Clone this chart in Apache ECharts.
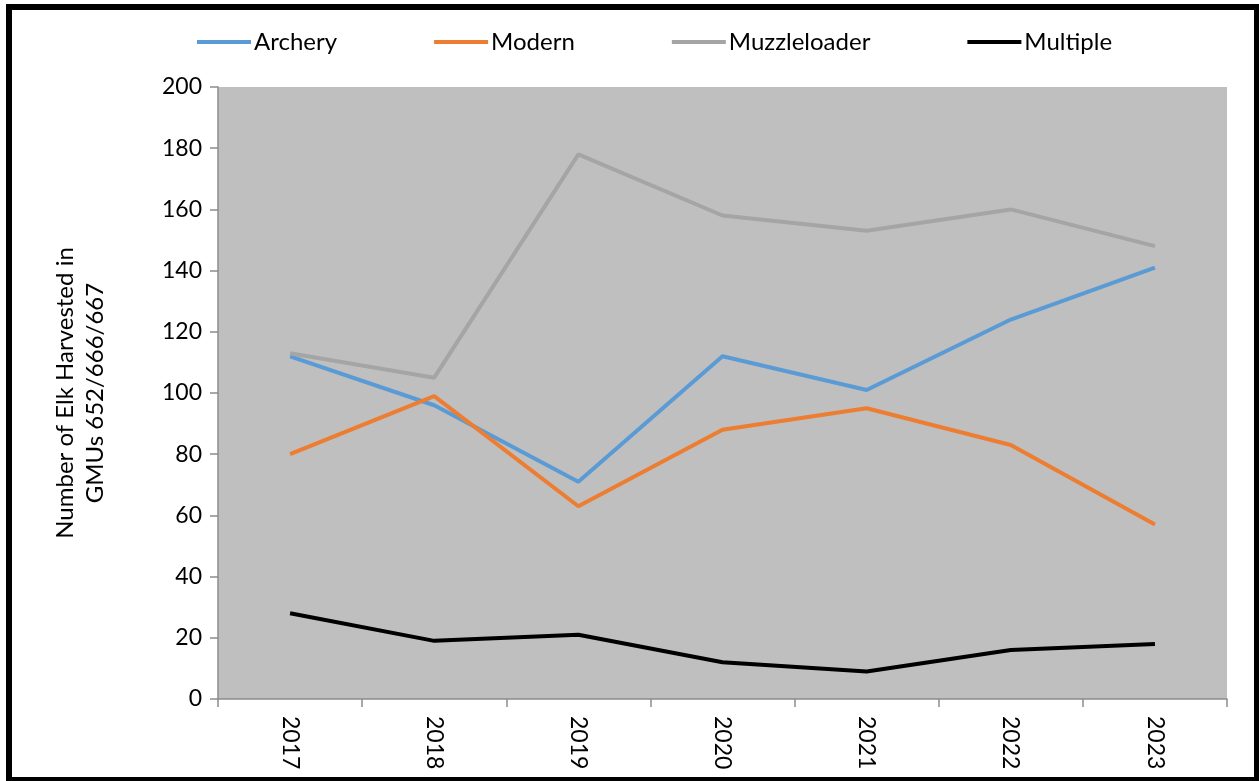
<!DOCTYPE html>
<html>
<head>
<meta charset="utf-8">
<script src="https://cdn.jsdelivr.net/npm/echarts@6/dist/echarts.min.js"></script>
<style>
  html, body { margin: 0; padding: 0; background: #fff; }
  #chart { position: absolute; left: 0; top: 0; width: 1259px; height: 781px; }
  #frame { position: absolute; left: 6px; top: 4px; width: 1254px; height: 779px;
    box-sizing: border-box; border: 6px solid #000; pointer-events: none; }
</style>
</head>
<body>
<div id="chart"></div>
<div id="frame"></div>
<script>
const years = ["2017", "2018", "2019", "2020", "2021", "2022", "2023"];
const archery = [112, 96, 71, 112, 101, 124, 141];
const modern = [80, 99, 63, 88, 95, 83, 57];
const muzzleloader = [113, 105, 178, 158, 153, 160, 148];
const multiple = [28, 19, 21, 12, 9, 16, 18];

const font = "Lato, 'Open Sans', sans-serif";
const axisGray = "#8c8c8c";

function line(name, data, color) {
  return {
    name: name,
    type: "line",
    data: data,
    symbol: "none",
    lineStyle: { color: color, width: 4 },
    itemStyle: { color: color }
  };
}

const myChart = echarts.init(document.getElementById("chart"));

myChart.setOption({
  animation: false,
  textStyle: { fontFamily: font },
  legend: {
    top: 25,
    left: 192,
    icon: "rect",
    itemWidth: 54,
    itemHeight: 4,
    itemGap: 97,
    textStyle: { fontSize: 24, color: "#000", fontFamily: font, padding: [0, 0, 0, -2] },
    data: ["Archery", "Modern", "Muzzleloader", "Multiple"]
  },
  grid: {
    left: 218,
    right: 32,
    top: 87,
    bottom: 82,
    show: true,
    backgroundColor: "#bfbfbf",
    borderWidth: 0
  },
  xAxis: {
    type: "category",
    data: years,
    boundaryGap: true,
    axisLine: { lineStyle: { color: axisGray, width: 1.5 } },
    axisTick: { show: true, length: 8, lineStyle: { color: axisGray, width: 1.5 } },
    axisLabel: { rotate: -90, margin: 17, fontSize: 23, color: "#000", fontFamily: font }
  },
  yAxis: {
    type: "value",
    min: 0,
    max: 200,
    interval: 20,
    name: "Number of Elk Harvested in\nGMUs 652/666/667",
    nameLocation: "middle",
    nameGap: 108,
    nameTextStyle: { fontSize: 24, color: "#000", fontFamily: font, lineHeight: 30 },
    axisLine: { show: true, lineStyle: { color: axisGray, width: 1.5 } },
    axisTick: { show: true, length: 8, lineStyle: { color: axisGray, width: 1.5 } },
    splitLine: { show: false },
    axisLabel: { margin: 16, fontSize: 23, color: "#000", fontFamily: font }
  },
  series: [
    line("Archery", archery, "#5b9bd5"),
    line("Modern", modern, "#ed7d31"),
    line("Muzzleloader", muzzleloader, "#a5a5a5"),
    line("Multiple", multiple, "#000000")
  ]
});
</script>
</body>
</html>
